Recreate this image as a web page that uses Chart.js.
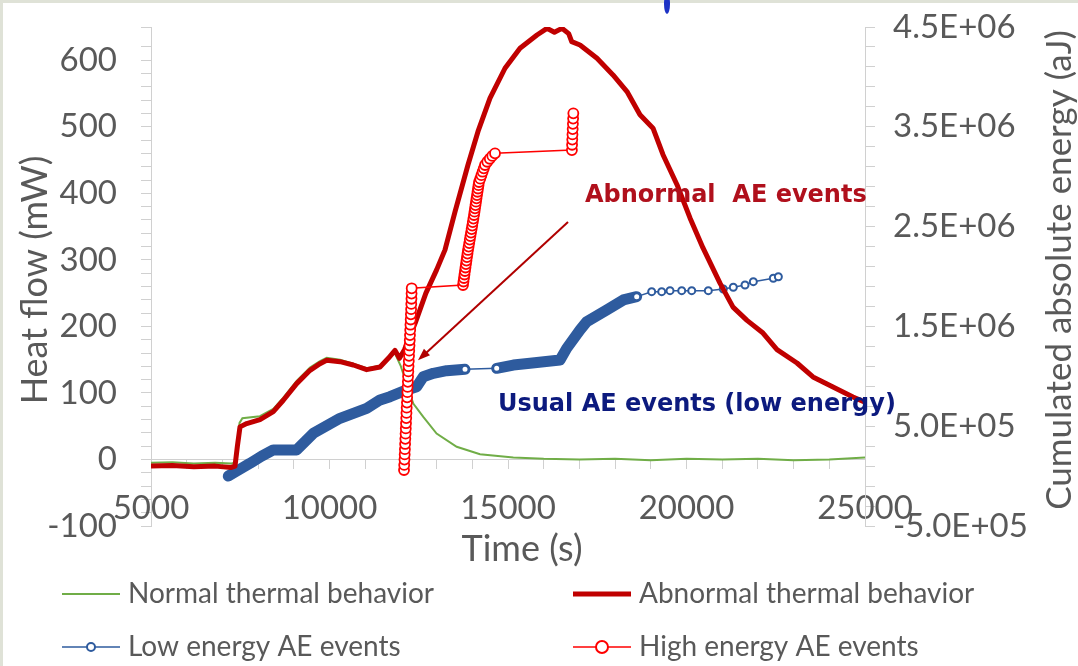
<!DOCTYPE html>
<html>
<head>
<meta charset="utf-8">
<title>Heat flow and AE events</title>
<script src="https://cdn.jsdelivr.net/npm/chart.js@4.4.1/dist/chart.umd.min.js"></script>
<style>
  html, body { margin: 0; padding: 0; background: #fff; }
  #wrap { width: 1078px; height: 666px; }
</style>
</head>
<body>
<div id="wrap"><canvas id="heatChart" width="1078" height="666"></canvas></div>
<script>
// Heat flow (mW) against time (s), left axis
const normalTime = [5000, 5600, 6200, 6800, 7250, 7353, 7480, 7560, 8053, 8426, 8706, 9080, 9454, 9734, 9921,
  10294, 10667, 11041, 11415, 11647, 11835, 12000, 12150, 12347, 12627, 13000, 13563, 14216, 15149, 16000,
  17000, 18000, 19000, 20000, 21000, 22000, 23000, 24000, 25000];
const normalFlow = [-5, -4, -6, -5, -6, -5, 55, 62, 65, 76, 93, 118, 138, 148, 153,
  150, 144, 137, 141, 154, 159, 140, 115, 84, 64, 39, 19, 8, 3, 1,
  0, 1, -1, 1, 0, 1, -1, 0, 3];

const abnormalTime = [5000, 5600, 6200, 6800, 7250, 7353, 7420, 7493, 7680, 8053, 8426, 8706, 9080, 9454, 9734,
  9921, 10294, 10667, 11041, 11415, 11647, 11835, 11960, 12100, 12400, 12700, 13000, 13235, 13515, 13880,
  14160, 14496, 14916, 15336, 15812, 16092, 16300, 16513, 16700, 16784, 17017, 17493, 17941, 18333, 18697,
  19062, 19342, 19734, 20098, 20462, 20938, 21303, 21695, 22143, 22535, 23095, 23543, 24104, 24664, 25000];
const abnormalFlow = [-10, -9, -11, -10, -12, -10, 20, 49, 54, 60, 72, 89, 114, 134, 144,
  149, 147, 142, 135, 139, 152, 164, 152, 165, 205, 250, 285, 315, 372, 443,
  493, 543, 588, 618, 638, 648, 642, 648, 640, 628, 623, 603, 578, 553, 518,
  498, 458, 413, 363, 318, 265, 229, 209, 190, 165, 145, 124, 109, 94, 86];

// Cumulated absolute energy (aJ), right axis
const lowTime = [7165, 7400, 7773, 8100, 8426, 9080, 9546, 10294, 11041, 11415, 11695, 12162, 12442, 12627, 12908,
  13282, 13796, 14683, 15149, 15616, 16457, 16644, 17017, 17204, 17764, 18230, 18605, 19025, 19305, 19538,
  19866, 20146, 20611, 21031, 21311, 21639, 21872, 22432, 22573];
const lowEnergy = [0, 50000, 128000, 200000, 262000, 262000, 429000, 579000, 679000, 763000, 796000, 863000, 896000, 996000, 1030000,
  1056000, 1070000, 1080000, 1113000, 1130000, 1163000, 1280000, 1464000, 1547000, 1664000, 1765000, 1798000, 1848000, 1848000, 1858000,
  1858000, 1858000, 1858000, 1875000, 1892000, 1915000, 1948000, 1982000, 1998000];

const highTime = [12087, 12093, 12100, 12106, 12112, 12118, 12124, 12131, 12137, 12143, 12150, 12156,
  12162, 12169, 12175, 12182, 12188, 12195, 12201, 12208, 12214, 12221, 12228, 12234,
  12241, 12248, 12254, 12261, 12267, 12274, 12280, 12286, 12291, 12296, 12299, 12302,
  13739, 13753, 13767, 13781, 13795, 13809, 13823, 13837, 13851, 13866,
  13880, 13897, 13914, 13930, 13947, 13964, 13981, 13998, 14014, 14031,
  14048, 14062, 14076, 14090, 14104, 14118, 14132, 14146, 14160, 14174,
  14188, 14222, 14255, 14289, 14322, 14356, 14420, 14490, 14560, 14636,
  16790, 16795, 16800, 16806, 16812, 16818, 16824, 16830];
const highEnergy = [61000, 112000, 166000, 217000, 270000, 322000, 373000, 425000, 478000, 530000, 581000, 633000,
  686000, 737000, 789000, 841000, 894000, 945000, 997000, 1049000, 1101000, 1153000, 1205000, 1257000,
  1309000, 1361000, 1413000, 1465000, 1517000, 1569000, 1621000, 1673000, 1725000, 1777000, 1829000, 1882000,
  1915000, 1950000, 1985000, 2020000, 2055000, 2090000, 2125000, 2160000, 2195000, 2230000,
  2266000, 2300000, 2335000, 2370000, 2405000, 2440000, 2475000, 2510000, 2545000, 2580000,
  2616000, 2650000, 2683000, 2716000, 2750000, 2783000, 2816000, 2849000, 2882000, 2915000,
  2947000, 2980000, 3015000, 3050000, 3084000, 3117000, 3150000, 3180000, 3208000, 3234000,
  3267000, 3320000, 3372000, 3424000, 3477000, 3530000, 3582000, 3635000];

// Tick labels
const timeTicks = [5000, 10000, 15000, 20000, 25000];
const flowTicks = [-100, 0, 100, 200, 300, 400, 500, 600];
const energyTicks = [-500000, 500000, 1500000, 2500000, 3500000, 4500000];

// Where the low energy events are so dense they merge into a band
const lowDenseSpans = [[7100, 13796], [14683, 18605]];

const greyText = '#595959';
const axisGrey = '#d0d0d0';

Chart.defaults.font.family = 'Lato, "Open Sans", sans-serif';

function pairs(xs, ys) {
    return xs.map((x, i) => ({ x: x, y: ys[i] }));
}

function sciLabel(v) {
    const e = Math.floor(Math.log10(Math.abs(v)));
    const m = v / Math.pow(10, e);
    return m.toFixed(1) + 'E+' + String(e).padStart(2, '0');
}

function inDenseSpan(t) {
    return lowDenseSpans.some(([a, b]) => t > a && t < b);
}

// fixed-width side axes; label overhang must not shrink the plot
function fixWidth(w) {
    return s => {
        s.width = w;
        s.paddingTop = 0;
        s.paddingBottom = 0;
    };
}

const overlayPlugin = {
    id: 'overlay',
    beforeDraw(chart) {
        const ctx = chart.ctx;
        ctx.save();
        ctx.fillStyle = '#ffffff';
        ctx.fillRect(0, 0, chart.width, chart.height);
        // slide frame
        ctx.fillStyle = '#dfe2d7';
        ctx.fillRect(0, 0, chart.width, 3);
        ctx.fillRect(0, 0, 3, chart.height);
        ctx.restore();
    },
    afterDraw(chart) {
        const ctx = chart.ctx;
        const xs = chart.scales.x;
        const ys = chart.scales.y;
        ctx.save();

        // axis titles
        ctx.fillStyle = greyText;
        ctx.textAlign = 'center';
        ctx.textBaseline = 'middle';
        ctx.font = '36px Lato';
        ctx.fillText('Time (s)', 522, 549);

        ctx.save();
        ctx.translate(35, 280);
        ctx.rotate(-Math.PI / 2);
        ctx.fillText('Heat flow (mW)', 0, 0);
        ctx.restore();

        ctx.font = '35px Lato';
        ctx.save();
        ctx.translate(1060, 270);
        ctx.rotate(-Math.PI / 2);
        ctx.fillText('Cumulated absolute energy (aJ)', 0, 0);
        ctx.restore();

        // annotations
        ctx.textAlign = 'left';
        ctx.font = 'bold 24px "DejaVu Sans"';
        ctx.fillStyle = '#b0101c';
        ctx.fillText('Abnormal  AE events', xs.getPixelForValue(17157), ys.getPixelForValue(397));
        ctx.fillStyle = '#0c1a7e';
        ctx.fillText('Usual AE events (low energy)', xs.getPixelForValue(14720), ys.getPixelForValue(82));

        // arrow towards the high energy column
        const ax0 = xs.getPixelForValue(16681), ay0 = ys.getPixelForValue(357);
        const ax1 = xs.getPixelForValue(12479), ay1 = ys.getPixelForValue(149);
        const ang = Math.atan2(ay1 - ay0, ax1 - ax0);
        ctx.strokeStyle = '#b00000';
        ctx.fillStyle = '#b00000';
        ctx.lineWidth = 2;
        ctx.beginPath();
        ctx.moveTo(ax0, ay0);
        ctx.lineTo(ax1 - 8 * Math.cos(ang), ay1 - 8 * Math.sin(ang));
        ctx.stroke();
        ctx.beginPath();
        ctx.moveTo(ax1, ay1);
        ctx.lineTo(ax1 - 13 * Math.cos(ang - 0.35), ay1 - 13 * Math.sin(ang - 0.35));
        ctx.lineTo(ax1 - 13 * Math.cos(ang + 0.35), ay1 - 13 * Math.sin(ang + 0.35));
        ctx.closePath();
        ctx.fill();

        // legend, two columns
        const cols = [62, 573];
        const rows = [594, 647];
        ctx.font = '28px Lato';
        ctx.textBaseline = 'middle';
        chart.data.datasets.forEach((ds, i) => {
            const x0 = cols[i % 2];
            const y = rows[Math.floor(i / 2)];
            ctx.strokeStyle = ds.borderColor;
            ctx.lineWidth = ds.legendWidth;
            ctx.beginPath();
            ctx.moveTo(x0, y);
            ctx.lineTo(x0 + 58, y);
            ctx.stroke();
            if (ds.legendMarker) {
                ctx.fillStyle = '#ffffff';
                ctx.lineWidth = 2;
                ctx.beginPath();
                ctx.arc(x0 + 29, y, ds.legendMarker, 0, Math.PI * 2);
                ctx.fill();
                ctx.stroke();
            }
            ctx.fillStyle = greyText;
            ctx.fillText(ds.label, x0 + 66, y);
        });

        // edge of a shape cut off by the slide
        ctx.fillStyle = '#1d33c5';
        ctx.beginPath();
        ctx.ellipse(667, 4, 3, 10, 0, 0, Math.PI * 2);
        ctx.fill();

        ctx.restore();
    }
};

const ctx = document.getElementById('heatChart').getContext('2d');
const heatChart = new Chart(ctx, {
    type: 'line',
    data: {
        datasets: [{
            label: 'Normal thermal behavior',
            data: pairs(normalTime, normalFlow),
            yAxisID: 'y',
            borderColor: '#70ad47',
            borderWidth: 2,
            pointRadius: 0,
            legendWidth: 2,
            order: 3
        }, {
            label: 'Abnormal thermal behavior',
            data: pairs(abnormalTime, abnormalFlow),
            yAxisID: 'y',
            borderColor: '#c00000',
            borderWidth: 5,
            borderJoinStyle: 'round',
            pointRadius: 0,
            legendWidth: 5,
            order: 1
        }, {
            label: 'Low energy AE events',
            data: pairs(lowTime, lowEnergy),
            yAxisID: 'y2',
            borderColor: '#2e5b9e',
            borderWidth: 1.5,
            borderCapStyle: 'round',
            borderJoinStyle: 'round',
            segment: {
                borderWidth: c => lowDenseSpans.some(([a, b]) =>
                    lowTime[c.p0DataIndex] >= a && lowTime[c.p1DataIndex] <= b) ? 11 : 1.5
            },
            pointRadius: c => inDenseSpan(lowTime[c.dataIndex]) ? 0 : 3.5,
            pointBorderWidth: 2,
            pointBackgroundColor: '#ffffff',
            pointBorderColor: '#2e5b9e',
            legendWidth: 1.5,
            legendMarker: 4,
            order: 2
        }, {
            label: 'High energy AE events',
            data: pairs(highTime, highEnergy),
            yAxisID: 'y2',
            borderColor: '#ff0000',
            borderWidth: 1.5,
            pointRadius: 5,
            pointBorderWidth: 1.8,
            pointBackgroundColor: '#ffffff',
            pointBorderColor: '#ff0000',
            legendWidth: 1.5,
            legendMarker: 6,
            order: 0
        }]
    },
    options: {
        responsive: false,
        animation: false,
        devicePixelRatio: 1,
        layout: { padding: { top: 27, bottom: 140, left: 0, right: 0 } },
        plugins: {
            legend: { display: false },
            tooltip: { enabled: false }
        },
        scales: {
            x: {
                type: 'linear',
                position: { y: 0 },
                min: 5000,
                max: 25000,
                afterFit: s => { s.height = 0; },
                border: { color: axisGrey, width: 1 },
                grid: { drawOnChartArea: false, tickLength: 9, color: axisGrey },
                ticks: {
                    stepSize: 1000,
                    autoSkip: false,
                    maxRotation: 0,
                    padding: 20,
                    color: greyText,
                    font: { size: 33 },
                    callback: v => timeTicks.includes(v) ? String(v) : ''
                }
            },
            y: {
                position: 'left',
                min: -100,
                max: 650,
                afterFit: fixWidth(151),
                border: { color: axisGrey, width: 1 },
                grid: { drawOnChartArea: false, tickLength: 10, color: axisGrey },
                ticks: {
                    stepSize: 20,
                    autoSkip: false,
                    padding: 24,
                    color: greyText,
                    font: { size: 33 },
                    callback: v => flowTicks.includes(v) ? String(v) : ''
                }
            },
            y2: {
                position: 'right',
                min: -500000,
                max: 4500000,
                afterFit: fixWidth(213),
                border: { color: axisGrey, width: 1 },
                grid: { drawOnChartArea: false, tickLength: 10, color: axisGrey },
                ticks: {
                    stepSize: 200000,
                    autoSkip: false,
                    padding: 18,
                    color: greyText,
                    font: { size: 33 },
                    callback: v => energyTicks.some(t => Math.abs(t - v) < 1) ? sciLabel(v) : ''
                }
            }
        }
    },
    plugins: [overlayPlugin]
});
</script>
</body>
</html>
